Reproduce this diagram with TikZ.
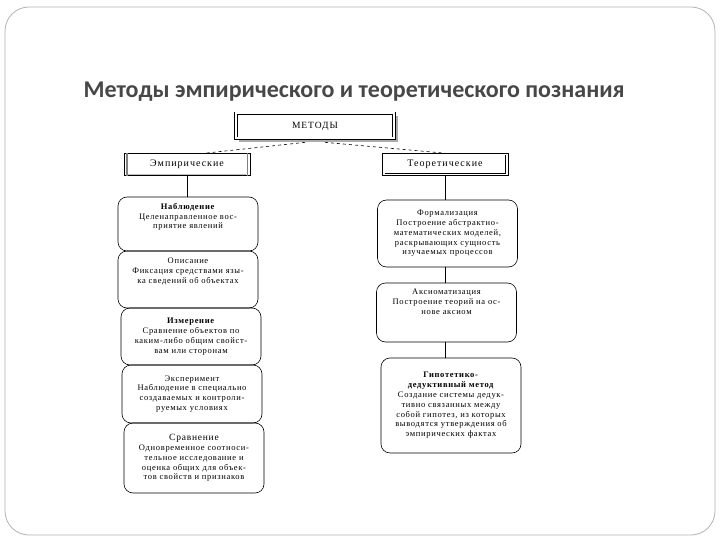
\documentclass[tikz,border=0pt]{standalone}
\usepackage{fontspec}
\setmainfont{Liberation Serif}
\newfontfamily\titlefont{Carlito}
\newfontfamily\boxfont[LetterSpace=8]{Liberation Serif}
\newfontfamily\headfont[LetterSpace=10]{Liberation Serif}
\usetikzlibrary{positioning,calc}

\tikzset{
  headbox/.style={rectangle,draw,double,double distance=2pt,line width=0.7pt,fill=white,minimum width=158pt,minimum height=25pt,
    font=\headfont\fontsize{9.5}{11}\selectfont},
  kindbox/.style={rectangle,draw,line width=0.6pt,fill=white,minimum width=126pt,minimum height=22pt,
    font=\headfont\fontsize{10}{11}\selectfont},
  methodbox/.style={rectangle,draw,line width=0.6pt,rounded corners=9pt,minimum width=140pt,align=center,inner sep=2pt,
    font=\boxfont\fontsize{8.5}{9.8}\selectfont},
  shade/.style={draw,gray!65,line width=2pt},
  link/.style={draw,line width=0.6pt},
  dashlink/.style={draw,dashed,line width=0.6pt}
}

\begin{document}
\begin{tikzpicture}[x=1pt,y=-1pt]
    \useasboundingbox (0,0) rectangle (720,540);
    \draw[gray!60,line width=0.8pt,rounded corners=24pt] (5,7) rectangle (715,535);

    \node[anchor=base west,font=\titlefont\bfseries\fontsize{24}{27}\selectfont,text=black!72] (title) at (80,98) {Методы эмпирического и теоретического познания};

    \node[headbox] (metody) at (315,126) {МЕТОДЫ};
    \draw[shade] ([xshift=2.2pt,yshift=-3pt]metody.north east) -- ([xshift=2.2pt,yshift=-2.2pt]metody.south east) -- ([xshift=3pt,yshift=-2.2pt]metody.south west);

    \node[kindbox] (emp) at (187,164.5) {Эмпирические};
    \node[kindbox] (theo) at (445,164.5) {Теоретические};
    \draw[gray,line width=1.6pt] ([xshift=3pt]emp.north west) -- ([xshift=3pt]emp.south west);
    \draw[gray,line width=1.6pt] ([xshift=-3pt]emp.north east) -- ([xshift=-3pt]emp.south east);
    \draw[gray!50,line width=1pt] ([xshift=4pt,yshift=1.2pt]emp.south west) -- ([xshift=-4pt,yshift=1.2pt]emp.south east);
    \draw[line width=0.6pt] ([xshift=-3pt,yshift=-2pt]theo.north east) -- ([xshift=-3pt,yshift=2.5pt]theo.south east) -- ([xshift=3pt,yshift=2.5pt]theo.south west);

    \path[dashlink] ([xshift=-10pt,yshift=-3.5pt]metody.south) -- ([xshift=18pt]emp.north);
    \path[dashlink] ([xshift=10pt,yshift=-3.5pt]metody.south) -- (theo.north);

    % empirical column
    \node[methodbox,minimum height=54pt] (nabl) at (188,224) {\textbf{Наблюдение}\\Целенаправленное вос-\\приятие явлений\\[6pt]};
    \node[methodbox,minimum height=57pt] (opis) at (188,279.5) {Описание\\Фиксация средствами язы-\\ка сведений об объектах\\[8pt]};
    \node[methodbox,minimum height=57pt] (izm) at (191,336.5) {\textbf{Измерение}\\Сравнение объектов по\\каким-либо общим свойст-\\вам или сторонам};
    \node[methodbox,minimum height=58pt] (eksp) at (192,394) {Эксперимент\\Наблюдение в специально\\создаваемых и контроли-\\руемых условиях};
    \node[methodbox,minimum height=70pt] (srav) at (194,458) {{\fontsize{9.5}{10}\selectfont Сравнение}\\Одновременное соотноси-\\тельное исследование и\\оценка общих для объек-\\тов свойств и признаков};

    % theoretical column
    \node[methodbox,minimum height=67pt] (form) at (447.5,233.5) {Формализация\\Построение абстрактно-\\математических моделей,\\раскрывающих сущность\\изучаемых процессов};
    \node[methodbox,minimum height=59pt] (aks) at (446.5,312.5) {Аксиоматизация\\Построение теорий на ос-\\нове аксиом\\[12pt]};
    \node[methodbox,minimum height=95pt] (gip) at (451,405.5) {\textbf{Гипотетико-}\\\textbf{дедуктивный метод}\\Создание системы дедук-\\тивно связанных между\\собой гипотез, из которых\\выводятся утверждения об\\эмпирических фактах};

    \draw[link] (emp.south) -- (emp.south |- nabl.north);
    \draw[link] (theo.south) -- (theo.south |- form.north);
    \draw[link] (theo.south |- form.south) -- (theo.south |- aks.north);
    \draw[link] (theo.south |- aks.south) -- (theo.south |- gip.north);
\end{tikzpicture}
\end{document}
